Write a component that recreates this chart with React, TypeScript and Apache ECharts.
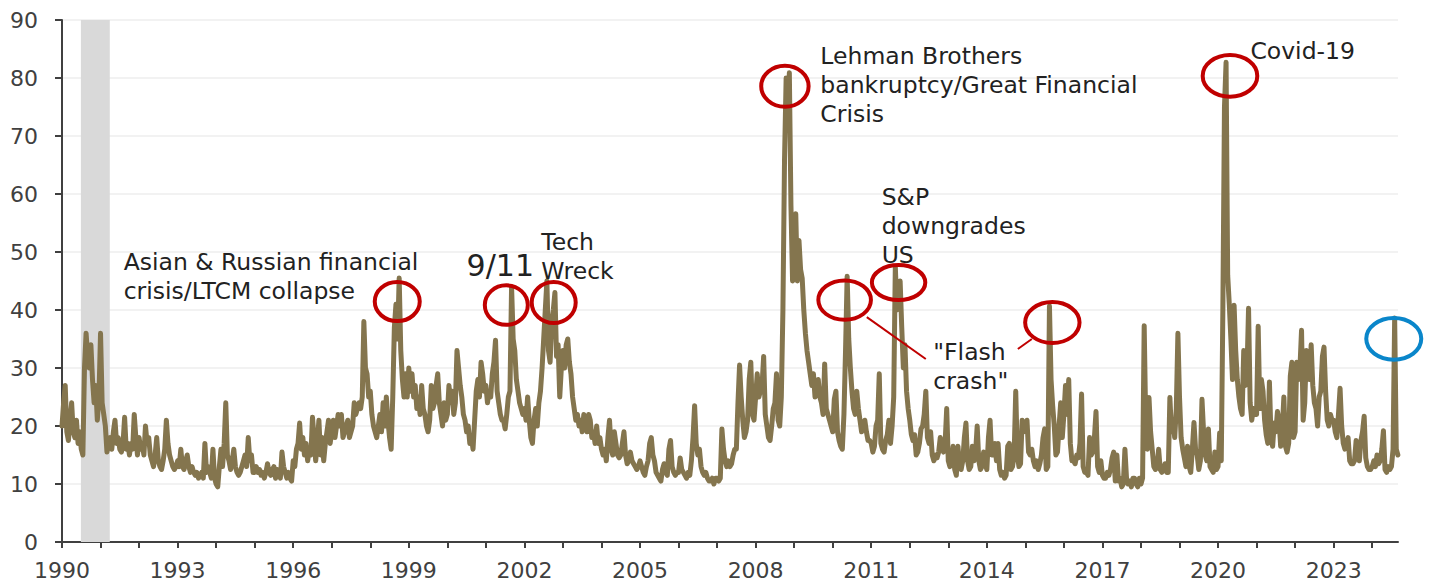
import React, { useEffect, useRef } from "react";
import * as echarts from "echarts";

// VIX, semi-monthly readings (24 per year)
const v1990 = [20, 24, 27, 19, 17.5, 21, 24, 19, 18, 21, 17, 19, 16, 15, 30, 36, 32, 30, 34, 28, 24, 27, 21, 25];
const v1991 = [36, 24, 22, 20, 15.5, 17, 18, 16, 19, 21, 17, 18, 16, 15.5, 17, 21.5, 16, 17, 15, 17, 16, 22, 18, 15];
const v1992 = [18, 16, 17, 15, 20, 17, 18, 15, 14, 13, 15, 18, 14, 13, 12.5, 14, 16, 21, 17, 15, 14, 13, 12.5, 13];
const v1993 = [14, 13, 16, 13, 12.5, 14, 15, 13, 12, 13, 12, 11.5, 12, 11, 11.5, 12, 11, 17, 12, 13, 12, 11, 16, 11];
const v1994 = [10, 9.5, 13, 16, 13, 17, 24, 15, 14, 12.5, 14, 16, 13, 12, 11.5, 12, 13, 14, 15, 13, 18, 14, 15, 12];
const v1995 = [12, 13, 12, 12.5, 11.5, 12, 11, 12, 13.5, 12, 11.5, 12.5, 13, 11, 12.5, 12, 11, 15.5, 13, 12, 11, 12, 11, 10.5];
const v1996 = [14, 13, 16, 17, 20.5, 16, 18, 15, 17, 14, 16, 15, 21.5, 18, 14, 17, 21, 15, 18, 14, 17, 19, 21, 17];
const v1997 = [19, 21, 18, 20, 22, 20, 22, 18, 19, 20, 21, 18, 19, 20, 24, 22, 23, 24, 23, 25, 38, 30, 29, 25];
const v1998 = [26, 22, 20, 19, 18, 20, 22, 19, 24, 20, 25, 21, 18, 16, 25, 37, 41, 35, 45.5, 33, 28, 25, 29, 25];
const v1999 = [30, 26, 29, 25, 27, 23, 25, 22, 27, 23, 22, 20, 19, 21, 27, 23, 24, 27, 29, 24, 22, 20, 24, 21];
const v2000 = [22, 27, 24, 26, 22, 24, 33, 30, 27, 25, 22, 21, 19, 20, 17, 18, 16, 21, 26, 28, 25, 31, 29, 26];
const v2001 = [27, 24, 26, 25, 29, 31, 34.8, 26, 24, 22, 21, 21, 19.5, 22, 25, 26, 44, 35, 33, 28, 26, 24, 23, 22];
const v2002 = [23, 21, 25, 21, 18, 17, 21, 23, 20, 24, 26, 30, 35, 40, 45, 33, 31, 38, 40, 43, 32, 34, 25, 30];
const v2003 = [33, 30, 34, 35, 31, 29, 25, 23, 21, 22, 20, 21, 19, 22, 20, 19, 22, 21, 18, 19, 17, 20, 17, 18];
const v2004 = [16, 15, 16, 14, 18, 21, 16, 15, 19, 17, 15, 14.5, 15, 17, 19, 15, 13.5, 14, 15.5, 14, 13.5, 13, 12.5, 13];
const v2005 = [14, 13, 12, 11.5, 13, 14, 17, 18, 15, 14, 12, 11.5, 11, 10.5, 12.5, 13.5, 12, 11.5, 16, 17.5, 13, 12, 11.5, 12];
const v2006 = [12, 14.5, 12.5, 12, 11.5, 11, 12, 11.5, 14, 18, 23.5, 17, 15, 16, 13, 12, 11.5, 12, 11, 10.5, 10.5, 11, 10, 11];
const v2007 = [11, 10.5, 11, 19.5, 16, 14, 13, 14, 13, 13.5, 15, 16, 16, 24, 30.5, 25, 21, 18, 19, 21, 28, 31, 22, 21];
const v2008 = [25, 29, 25, 26, 27, 32, 22, 20, 18, 17.5, 20, 23, 24, 29, 21, 20, 25, 40, 66, 80, 72, 80.9, 58, 45];
const v2009 = [46, 56.6, 45, 52, 47, 45.5, 40, 36, 33, 31, 29, 27, 29, 25, 26, 28, 25, 24, 22, 30.7, 23, 22, 21, 20];
const v2010 = [19, 24.6, 26, 19, 17.5, 16.5, 16, 22, 33, 45.8, 35, 30, 26, 23, 22, 26, 23, 21, 19, 20, 21, 19, 17.5, 17.5];
const v2011 = [17, 15.5, 16.5, 20, 21, 29, 17, 16, 15.5, 17.5, 18.5, 21, 17, 20, 25, 47.5, 40, 42, 45, 37, 30, 34, 26, 23];
const v2012 = [21, 18.5, 17.5, 18.5, 15, 15.5, 17, 19.5, 20, 22, 26, 18, 17, 19, 15, 14, 15, 14.5, 15.5, 18, 17, 15.5, 17, 23];
const v2013 = [14, 13, 13.5, 16.5, 12.5, 11.5, 16.5, 13, 12.5, 14, 18, 20.5, 14, 12.5, 13, 16.5, 14, 15.5, 20, 14, 12.5, 13, 15.5, 13.5];
const v2014 = [12.5, 18, 21, 15, 15, 17, 14, 17, 12.5, 11.5, 12, 11, 11.5, 16.5, 17, 12.5, 13, 15, 26, 15, 13, 13.5, 21, 19];
const v2015 = [20, 21, 15.5, 15, 16, 14, 13, 14, 12.5, 13.5, 15, 18, 19.5, 12.5, 13, 40.7, 28, 23.5, 20, 15, 15.5, 20, 24, 18];
const v2016 = [22, 27, 22, 28, 17, 14, 14, 13.5, 15, 14.5, 17, 25.5, 13, 12, 12, 11.5, 18, 15, 15.5, 18, 22.5, 13, 12, 14];
const v2017 = [11.5, 11, 11, 12, 11.5, 12.5, 14.5, 15.5, 10.5, 15, 10.5, 11, 9.5, 10, 16, 11, 10, 10.5, 9.5, 11, 11, 10, 9.5, 11];
const v2018 = [10, 11, 37.3, 20, 16, 24.9, 19, 16, 13, 12.5, 13, 16, 12.5, 12, 12.5, 13.5, 12, 12, 24.9, 19, 21, 18, 23, 36];
const v2019 = [25, 18, 16, 14.5, 13, 16.5, 13, 12, 16, 20.6, 16, 15, 12.5, 14, 24.6, 19, 15, 14, 19.5, 13, 12.5, 12, 15.5, 12.5];
const v2020 = [13, 18.8, 14, 40, 75, 82.7, 46, 41, 35, 28, 40.8, 33, 28, 25, 23, 22, 33, 27, 29, 40.3, 24, 21, 23, 22];
const v2021 = [22, 37.2, 23, 28, 26, 21, 18.5, 17, 27.6, 18, 16.5, 20.5, 19, 22.5, 21, 16.5, 19.5, 25, 16.5, 15.5, 17, 28.6, 31, 18];
const v2022 = [19, 31, 28, 30, 36.5, 21, 24, 33, 32, 28, 34, 27, 24, 23, 20, 25, 26, 32, 33.6, 26, 21, 20, 22, 21];
const v2023 = [21, 19, 18, 22, 26.5, 20, 17, 16, 17, 18, 14, 13.5, 13.5, 14, 17.5, 15, 14, 17.5, 19, 21.7, 14.5, 13, 12.5, 12.5];
const v2024 = [13, 14, 13, 15, 13.5, 14, 16, 19.2, 12.5, 12, 13, 12.5, 13, 16, 38.6, 16, 15];

const yearSeries = [
  v1990, v1991, v1992, v1993, v1994, v1995, v1996, v1997, v1998, v1999,
  v2000, v2001, v2002, v2003, v2004, v2005, v2006, v2007, v2008, v2009,
  v2010, v2011, v2012, v2013, v2014, v2015, v2016, v2017, v2018, v2019,
  v2020, v2021, v2022, v2023, v2024,
];
const firstYear = 1990;
const stepsPerYear = 24;

const xMin = 1990;
const xMax = 2024.67;
const xTickYears = [
  1990, 1991, 1992, 1993, 1994, 1995, 1996, 1997, 1998, 1999, 2000, 2001,
  2002, 2003, 2004, 2005, 2006, 2007, 2008, 2009, 2010, 2011, 2012, 2013,
  2014, 2015, 2016, 2017, 2018, 2019, 2020, 2021, 2022, 2023, 2024,
];
const xLabelYears = [1990, 1993, 1996, 1999, 2002, 2005, 2008, 2011, 2014, 2017, 2020, 2023];
const yMin = 0;
const yMax = 90;
const yStep = 10;

// US recession band (1990-91)
const recessionBand = [1990.49, 1991.24];

const lineColor = "#84754E";
const red = "#C00000";
const blue = "#0A86CA";
const fontFamily = '"DejaVu Sans", sans-serif';

// annotation circles: centre in data coords, radii in px
const circles = [
  { x: 1998.7, y: 41.45, rx: 22.5, ry: 19.5, color: red },
  { x: 2001.53, y: 40.85, rx: 21.5, ry: 19.7, color: red },
  { x: 2002.76, y: 41.28, rx: 22, ry: 20.5, color: red },
  { x: 2008.76, y: 78.58, rx: 23.7, ry: 20.5, color: red },
  { x: 2010.31, y: 41.71, rx: 26.3, ry: 19.7, color: red },
  { x: 2011.71, y: 44.72, rx: 26.7, ry: 17.5, color: red },
  { x: 2015.7, y: 37.84, rx: 27.2, ry: 20.5, color: red },
  { x: 2020.31, y: 80.36, rx: 27.3, ry: 20.8, color: red },
  { x: 2024.56, y: 35.03, rx: 27.5, ry: 20.8, color: blue },
];

// annotation texts: left edge / first-line centre in data coords
const notes = [
  { lines: ["Asian & Russian financial", "crisis/LTCM collapse"], x: 1991.6, y: 48.34, size: 23.5 },
  { lines: ["9/11"], x: 2000.5, y: 47.74, size: 30 },
  { lines: ["Tech", "Wreck"], x: 2002.44, y: 51.78, size: 23.5 },
  { lines: ["Lehman Brothers", "bankruptcy/Great Financial", "Crisis"], x: 2009.68, y: 83.71, size: 23.5 },
  { lines: ["S&P", "downgrades", "US"], x: 2011.27, y: 59.49, size: 23.5 },
  { lines: ['"Flash', 'crash"'], x: 2012.61, y: 32.81, size: 23.5 },
  { lines: ["Covid-19"], x: 2020.84, y: 84.58, size: 23.5 },
];
const lineGap = 29;

const connectors = [
  { from: [2010.885, 38.78], to: [2012.416, 31.55] },
  { from: [2014.805, 33.28], to: [2015.168, 35.0] },
];

export default function App() {
  const ref = useRef<HTMLDivElement>(null);

  useEffect(() => {
    const chart = echarts.init(ref.current as HTMLDivElement, undefined, { renderer: "svg" });
    const points: [number, number][] = [];
    yearSeries.forEach((vals, k) => {
      vals.forEach((v, i) => points.push([firstYear + k + i / stepsPerYear, v]));
    });

    chart.setOption({
      animation: false,
      grid: { left: 62, right: 33, top: 20, bottom: 42, containLabel: false },
      xAxis: {
        type: "value",
        min: xMin,
        max: xMax,
        interval: 1,
        axisLine: { show: true, lineStyle: { color: "#404040", width: 2 } },
        axisTick: { show: true, length: 6, customValues: xTickYears, lineStyle: { color: "#404040", width: 2 } },
        splitLine: { show: false },
        axisLabel: {
          customValues: xLabelYears,
          formatter: (v: number) => (xLabelYears.includes(Math.round(v * 1000) / 1000) ? String(v) : ""),
          fontSize: 22,
          fontFamily,
          color: "#404040",
          margin: 17,
        },
      },
      yAxis: {
        type: "value",
        min: yMin,
        max: yMax,
        interval: yStep,
        axisLine: { show: true, lineStyle: { color: "#404040", width: 2 } },
        axisTick: { show: true, length: 7, lineStyle: { color: "#404040", width: 2 } },
        splitLine: { show: true, lineStyle: { color: "#F2F2F2", width: 2 } },
        axisLabel: { fontSize: 22, fontFamily, color: "#404040", margin: 24 },
      },
      series: [
        {
          type: "line",
          data: [[recessionBand[0], 0]],
          showSymbol: false,
          lineStyle: { opacity: 0 },
          z: 1,
          silent: true,
          markArea: {
            silent: true,
            itemStyle: { color: "#D9D9D9" },
            data: [[{ xAxis: recessionBand[0] }, { xAxis: recessionBand[1] }]],
          },
        },
        {
          type: "line",
          data: points,
          showSymbol: false,
          z: 3,
          lineStyle: { color: lineColor, width: 5, join: "round", cap: "round" },
        },
      ],
    });

    const px = (p: number[]) => chart.convertToPixel({ gridIndex: 0 }, p) as number[];
    const graphics: any[] = [];
    circles.forEach((c) => {
      const [cx, cy] = px([c.x, c.y]);
      graphics.push({
        type: "ellipse",
        z: 100,
        shape: { cx, cy, rx: c.rx, ry: c.ry },
        style: { fill: "none", stroke: c.color, lineWidth: 4 },
      });
    });
    connectors.forEach((c) => {
      const [x1, y1] = px(c.from);
      const [x2, y2] = px(c.to);
      graphics.push({
        type: "line",
        z: 100,
        shape: { x1, y1, x2, y2 },
        style: { stroke: red, lineWidth: 2 },
      });
    });
    notes.forEach((n) => {
      const [x, y] = px([n.x, n.y]);
      n.lines.forEach((line, i) => {
        graphics.push({
          type: "text",
          z: 100,
          x,
          y: y + i * lineGap,
          style: {
            text: line,
            fill: "#222222",
            fontSize: n.size,
            fontFamily,
            align: "left",
            verticalAlign: "middle",
            textAlign: "left",
            textVerticalAlign: "middle",
          },
        });
      });
    });
    chart.setOption({ graphic: graphics });

    return () => chart.dispose();
  }, []);

  return <div ref={ref} style={{ position: "absolute", left: 0, top: 0, width: 1431, height: 584 }} />;
}
